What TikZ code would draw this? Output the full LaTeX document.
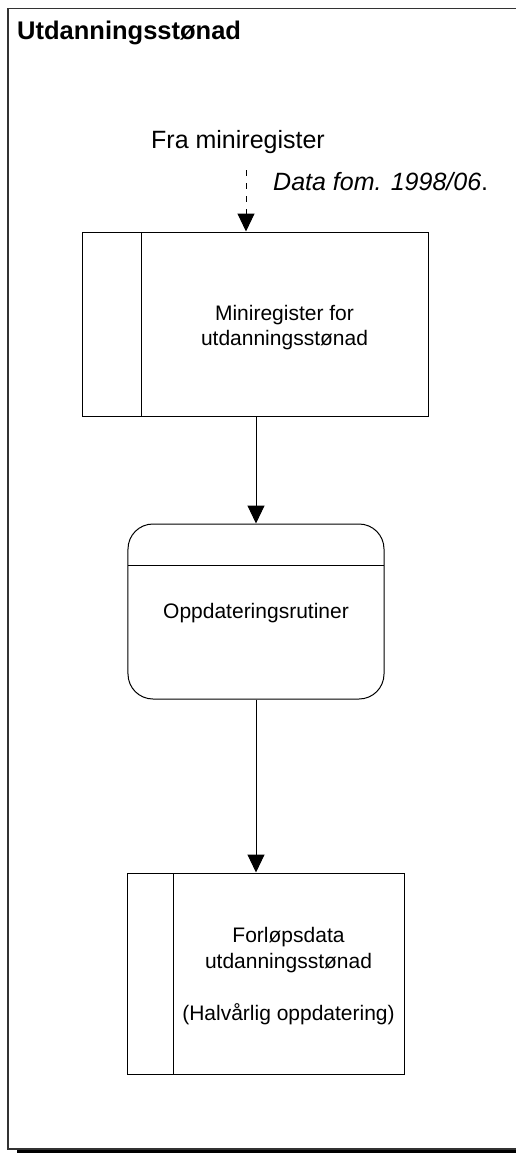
\documentclass[tikz,border=0pt]{standalone}
\usepackage{fontspec}
\setmainfont{Liberation Sans}
\usetikzlibrary{arrows.meta}
\begin{document}
\begin{tikzpicture}[x=1bp,y=-1bp,
  frameline/.style={draw=black!80,line width=1.4bp},
  boxline/.style={draw=black,line width=1bp},
  arr/.style={draw=black,line width=1bp,-{Triangle[length=18bp,width=17bp]}},
  dasharr/.style={arr,dash pattern=on 6bp off 7bp},
  boxtext/.style={font=\fontsize{21bp}{25bp}\selectfont,align=center,inner sep=0pt},
  labeltext/.style={font=\fontsize{25bp}{29bp}\selectfont,inner sep=0pt}]
\useasboundingbox (0,0) rectangle (516,1153);
% frame
\draw[frameline] (520,8.5) -- (8,8.5) -- (8,1149) -- (520,1149);
\fill[black] (17,1150) rectangle (516,1153.5);
% title
\node[labeltext,font=\fontsize{25.5bp}{29bp}\selectfont\bfseries,anchor=west] (title) at (17,33) {Utdanningsstønad};
% box 1
\node[boxline,rectangle,minimum width=345bp,minimum height=184bp,inner sep=0pt] (box1) at (255.5,324) {};
\draw[boxline] (141,232) -- (141,416);
\node[boxtext] (t1) at (284.5,327.5) {Miniregister for\\utdanningsstønad};
% incoming label
\node[labeltext] (fra) at (238,142) {Fra miniregister};
\node[labeltext,anchor=west] (data) at (273,182) {\itshape Data fom. 1998/06\upshape.};
\coordinate (src) at (246,170);
\draw[dasharr] (src) -- (src |- box1.north);
% box 2
\node[boxline,rectangle,rounded corners=25bp,minimum width=256bp,minimum height=175bp,inner sep=0pt] (box2) at (256,611.5) {};
\draw[boxline] (128,565) -- (384,565);
\node[boxtext] (t2) at (256,613) {Oppdateringsrutiner};
% box 3
\node[boxline,rectangle,minimum width=276bp,minimum height=201bp,inner sep=0pt] (box3) at (266,973.5) {};
\draw[boxline] (173,873) -- (173,1074);
\node[boxtext,font=\fontsize{21bp}{26bp}\selectfont] (t3) at (288.5,976) {Forløpsdata\\utdanningsstønad\\[26bp](Halvårlig oppdatering)};
% connectors
\draw[arr] (box1.south -| box2.north) -- (box2.north);
\draw[arr] (box2.south) -- (box2.south |- box3.north);
\end{tikzpicture}
\end{document}
